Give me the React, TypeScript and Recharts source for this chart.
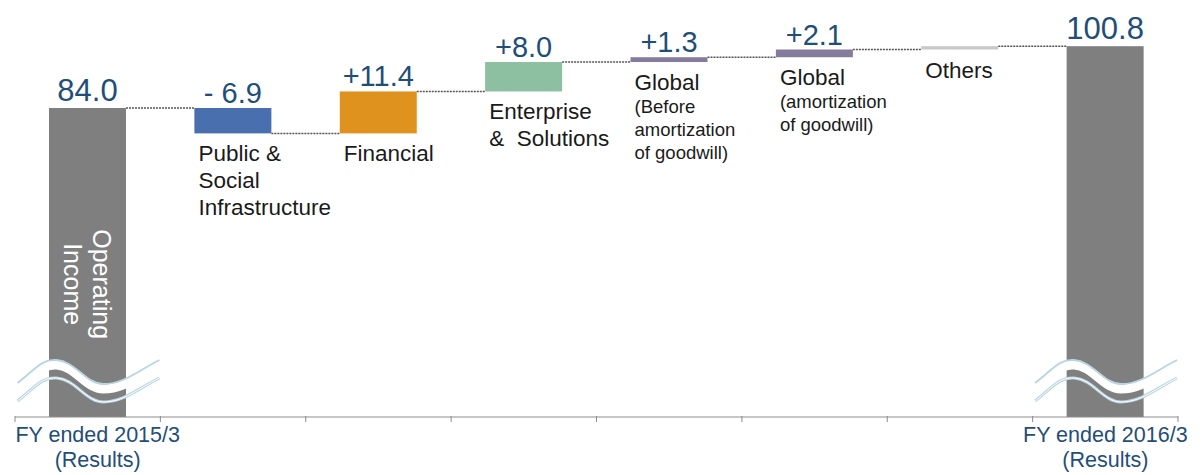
import { ComposedChart, Bar, XAxis, YAxis, LabelList } from "recharts";

document.body.style.margin = "0";

const FONT = "'Liberation Sans', Arial, sans-serif";
const W = 1204;
const H = 475;
const MARGIN = { top: 5, right: 26, bottom: 57, left: 15 };

const categories = ["FY2015", "Public", "Financial", "Enterprise", "GlobalBefore", "GlobalAmort", "Others", "FY2016"];
const startValue = 84.0;
const endValue = 100.8;
const deltas = [-6.9, 11.4, 8.0, 1.3, 2.1, 0.9];
const valueLabels = ["84.0", "- 6.9", "+11.4", "+8.0", "+1.3", "+2.1", "", "100.8"];
const categoryLines = [
  [],
  ["Public &", "Social", "Infrastructure"],
  ["Financial"],
  ["Enterprise", "&  Solutions"],
  ["Global", "(Before", "amortization", "of goodwill)"],
  ["Global", "(amortization", "of goodwill)"],
  ["Others"],
  [],
];
const tickLines = [["FY ended 2015/3", "(Results)"], [], [], [], [], [], [], ["FY ended 2016/3", "(Results)"]];
const colors = ["#7f7f7f", "#4a6fae", "#e0921f", "#8dbfa1", "#857b9c", "#857b9c", "#c8c8c8", "#7f7f7f"];

const BAND = (W - MARGIN.left - MARGIN.right) / categories.length;
const AXIS_COLOR = "#8c8c8c";

let running = startValue;
const rows = categories.map((key, i) => {
  if (i === 0) return { key, range: [0, startValue], end: startValue, kind: "total" };
  if (i === categories.length - 1) return { key, range: [0, endValue], end: endValue, kind: "total" };
  const d = deltas[i - 1];
  const from = running;
  running = +(running + d).toFixed(1);
  return { key, range: [Math.min(from, running), Math.max(from, running)], end: running, kind: d < 0 ? "down" : "up" };
});

const wave = (cx: number, base: number) =>
  `M${cx - 70},${base} C${cx - 52},${base - 14} ${cx - 46},${base - 24} ${cx - 31},${base - 23} ` +
  `C${cx - 12},${base - 22} ${cx - 2},${base + 1} ${cx + 16},${base + 1} ` +
  `C${cx + 36},${base + 1} ${cx + 50},${base - 12} ${cx + 72},${base - 23}`;

const BarShape = (props: any) => {
  const { x, y, width, height, index } = props;
  const row = rows[index];
  const top = Math.min(y, y + height);
  const bot = Math.max(y, y + height);
  const cx = x + width / 2;
  const levelY = row.kind === "down" ? bot : top;
  return (
    <g>
      <rect x={x} y={top} width={width} height={bot - top} fill={colors[index]} />
      {index < categories.length - 1 && (
        <line x1={x + width} x2={x + BAND} y1={levelY} y2={levelY} stroke="#555" strokeWidth={1.5} strokeDasharray="2 1" />
      )}
      {row.kind === "total" && (
        <g fill="none">
          <path d={wave(cx, bot - 29)} stroke="#ffffff" strokeWidth={9} />
          <path d={wave(cx, bot - 34)} stroke="#b9d5e1" strokeWidth={1.8} />
          <path d={wave(cx, bot - 16)} stroke="#b9d5e1" strokeWidth={3} />
          <path d={wave(cx, bot - 16)} stroke="#ffffff" strokeWidth={1} />
        </g>
      )}
      {index === 0 && (
        <text
          transform={`translate(${cx},${top + (bot - top) * 0.57}) rotate(90)`}
          textAnchor="middle"
          fill="#ffffff"
          fontSize={25}
          fontFamily={FONT}
        >
          <tspan x={0} y={-5}>Operating</tspan>
          <tspan x={0} y={24}>Income</tspan>
        </text>
      )}
    </g>
  );
};

const ValueLabel = (props: any) => {
  const { x, y, width, height, index } = props;
  const text = valueLabels[index];
  if (!text) return null;
  const top = Math.min(y, y + height);
  const isTotal = rows[index].kind === "total";
  return (
    <text
      x={x + width / 2}
      y={top - (isTotal ? 7 : 5)}
      textAnchor="middle"
      fill="#1f4e79"
      fontSize={isTotal ? 31 : 29}
      fontFamily={FONT}
    >
      {text}
    </text>
  );
};

const CategoryLabel = (props: any) => {
  const { x, y, height, index } = props;
  const lines = categoryLines[index];
  if (!lines.length) return null;
  const bot = Math.max(y, y + height);
  let cursor = bot + 28;
  let small = false;
  return (
    <text x={x + 4} fill="#1a1a1a" fontFamily={FONT} style={{ whiteSpace: "pre" }}>
      {lines.map((line: string, i: number) => {
        if (line.startsWith("(")) small = true;
        if (i > 0) cursor += small ? 23 : 27;
        return (
          <tspan key={i} x={x + 4} y={cursor} fontSize={small ? 18.5 : 22.5}>
            {line}
          </tspan>
        );
      })}
    </text>
  );
};

// tick marks sit on the band edges, labels only under the two totals
const TickLabel = (props: any) => {
  const { x, y, index } = props;
  const lines = tickLines[index] || [];
  const left = x - BAND / 2;
  const tx = index === 0 ? x + 10 : x;
  return (
    <g>
      <line x1={left} x2={left} y1={y - 1} y2={y + 5} stroke={AXIS_COLOR} />
      {index === categories.length - 1 && (
        <line x1={x + BAND / 2} x2={x + BAND / 2} y1={y - 1} y2={y + 5} stroke={AXIS_COLOR} />
      )}
      {lines.length > 0 && (
        <text x={tx} textAnchor="middle" fill="#1f4e79" fontSize={21.5} fontFamily={FONT}>
          <tspan x={tx} y={y + 25}>{lines[0]}</tspan>
          <tspan x={tx} y={y + 50}>{lines[1]}</tspan>
        </text>
      )}
    </g>
  );
};

export default function App() {
  return (
    <ComposedChart width={W} height={H} data={rows} margin={MARGIN}>
      <XAxis
        dataKey="key"
        height={1}
        axisLine={{ stroke: AXIS_COLOR }}
        tickLine={false}
        tickSize={0}
        tickMargin={0}
        interval={0}
        tick={TickLabel}
      />
      <YAxis hide domain={[0, 112]} />
      <Bar dataKey="range" barSize={77} isAnimationActive={false} shape={BarShape}>
        <LabelList dataKey="key" content={ValueLabel} />
        <LabelList dataKey="key" content={CategoryLabel} />
      </Bar>
    </ComposedChart>
  );
}
